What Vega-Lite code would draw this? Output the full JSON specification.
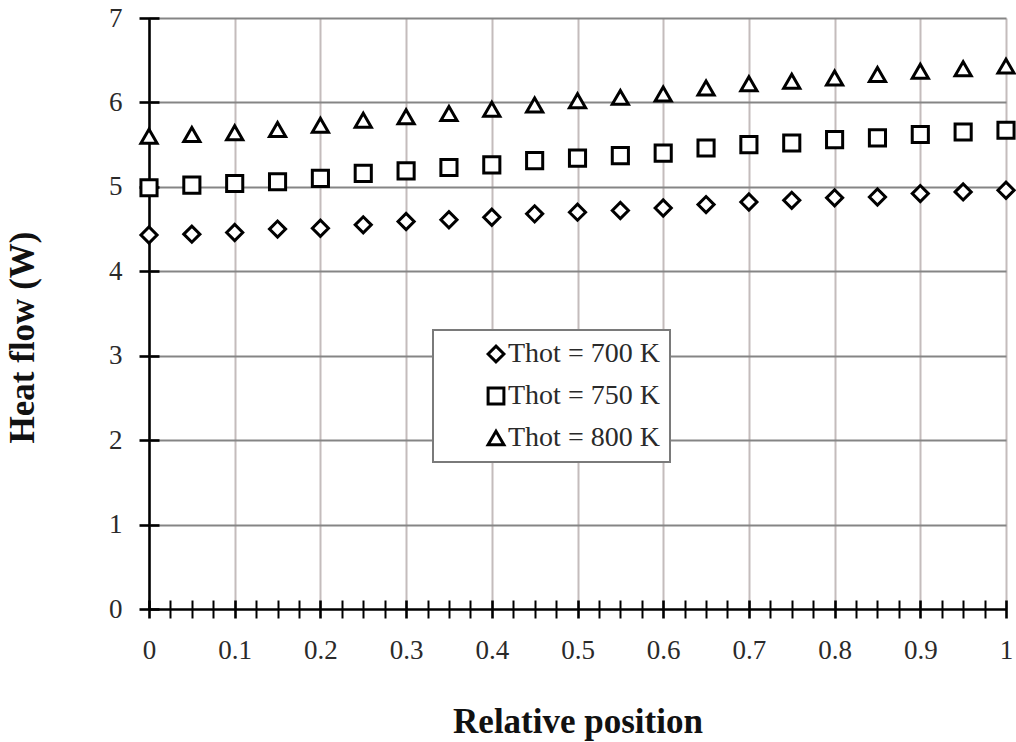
{
  "$schema": "https://vega.github.io/schema/vega-lite/v6.json",
  "autosize": "none",
  "width": 857,
  "height": 591,
  "padding": {"left": 149, "top": 18, "right": 10, "bottom": 133},
  "background": "white",
  "config": {
    "view": {"stroke": null},
    "font": "Liberation Serif",
    "legend": {"strokeWidth": 2, "symbolStrokeWidth": 3}
  },
  "data": {
    "values": [
      {"pos": 0.00, "heat": 4.43, "case": "Thot = 700 K"},
      {"pos": 0.05, "heat": 4.44, "case": "Thot = 700 K"},
      {"pos": 0.10, "heat": 4.46, "case": "Thot = 700 K"},
      {"pos": 0.15, "heat": 4.50, "case": "Thot = 700 K"},
      {"pos": 0.20, "heat": 4.51, "case": "Thot = 700 K"},
      {"pos": 0.25, "heat": 4.55, "case": "Thot = 700 K"},
      {"pos": 0.30, "heat": 4.59, "case": "Thot = 700 K"},
      {"pos": 0.35, "heat": 4.61, "case": "Thot = 700 K"},
      {"pos": 0.40, "heat": 4.64, "case": "Thot = 700 K"},
      {"pos": 0.45, "heat": 4.68, "case": "Thot = 700 K"},
      {"pos": 0.50, "heat": 4.70, "case": "Thot = 700 K"},
      {"pos": 0.55, "heat": 4.72, "case": "Thot = 700 K"},
      {"pos": 0.60, "heat": 4.75, "case": "Thot = 700 K"},
      {"pos": 0.65, "heat": 4.79, "case": "Thot = 700 K"},
      {"pos": 0.70, "heat": 4.82, "case": "Thot = 700 K"},
      {"pos": 0.75, "heat": 4.84, "case": "Thot = 700 K"},
      {"pos": 0.80, "heat": 4.87, "case": "Thot = 700 K"},
      {"pos": 0.85, "heat": 4.88, "case": "Thot = 700 K"},
      {"pos": 0.90, "heat": 4.92, "case": "Thot = 700 K"},
      {"pos": 0.95, "heat": 4.94, "case": "Thot = 700 K"},
      {"pos": 1.00, "heat": 4.96, "case": "Thot = 700 K"},
      {"pos": 0.00, "heat": 4.99, "case": "Thot = 750 K"},
      {"pos": 0.05, "heat": 5.02, "case": "Thot = 750 K"},
      {"pos": 0.10, "heat": 5.04, "case": "Thot = 750 K"},
      {"pos": 0.15, "heat": 5.06, "case": "Thot = 750 K"},
      {"pos": 0.20, "heat": 5.10, "case": "Thot = 750 K"},
      {"pos": 0.25, "heat": 5.16, "case": "Thot = 750 K"},
      {"pos": 0.30, "heat": 5.19, "case": "Thot = 750 K"},
      {"pos": 0.35, "heat": 5.23, "case": "Thot = 750 K"},
      {"pos": 0.40, "heat": 5.26, "case": "Thot = 750 K"},
      {"pos": 0.45, "heat": 5.31, "case": "Thot = 750 K"},
      {"pos": 0.50, "heat": 5.34, "case": "Thot = 750 K"},
      {"pos": 0.55, "heat": 5.37, "case": "Thot = 750 K"},
      {"pos": 0.60, "heat": 5.40, "case": "Thot = 750 K"},
      {"pos": 0.65, "heat": 5.46, "case": "Thot = 750 K"},
      {"pos": 0.70, "heat": 5.50, "case": "Thot = 750 K"},
      {"pos": 0.75, "heat": 5.52, "case": "Thot = 750 K"},
      {"pos": 0.80, "heat": 5.56, "case": "Thot = 750 K"},
      {"pos": 0.85, "heat": 5.58, "case": "Thot = 750 K"},
      {"pos": 0.90, "heat": 5.62, "case": "Thot = 750 K"},
      {"pos": 0.95, "heat": 5.65, "case": "Thot = 750 K"},
      {"pos": 1.00, "heat": 5.67, "case": "Thot = 750 K"},
      {"pos": 0.00, "heat": 5.60, "case": "Thot = 800 K"},
      {"pos": 0.05, "heat": 5.62, "case": "Thot = 800 K"},
      {"pos": 0.10, "heat": 5.64, "case": "Thot = 800 K"},
      {"pos": 0.15, "heat": 5.68, "case": "Thot = 800 K"},
      {"pos": 0.20, "heat": 5.73, "case": "Thot = 800 K"},
      {"pos": 0.25, "heat": 5.79, "case": "Thot = 800 K"},
      {"pos": 0.30, "heat": 5.83, "case": "Thot = 800 K"},
      {"pos": 0.35, "heat": 5.87, "case": "Thot = 800 K"},
      {"pos": 0.40, "heat": 5.92, "case": "Thot = 800 K"},
      {"pos": 0.45, "heat": 5.97, "case": "Thot = 800 K"},
      {"pos": 0.50, "heat": 6.02, "case": "Thot = 800 K"},
      {"pos": 0.55, "heat": 6.06, "case": "Thot = 800 K"},
      {"pos": 0.60, "heat": 6.10, "case": "Thot = 800 K"},
      {"pos": 0.65, "heat": 6.17, "case": "Thot = 800 K"},
      {"pos": 0.70, "heat": 6.22, "case": "Thot = 800 K"},
      {"pos": 0.75, "heat": 6.25, "case": "Thot = 800 K"},
      {"pos": 0.80, "heat": 6.29, "case": "Thot = 800 K"},
      {"pos": 0.85, "heat": 6.33, "case": "Thot = 800 K"},
      {"pos": 0.90, "heat": 6.37, "case": "Thot = 800 K"},
      {"pos": 0.95, "heat": 6.40, "case": "Thot = 800 K"},
      {"pos": 1.00, "heat": 6.43, "case": "Thot = 800 K"}
    ]
  },
  "mark": {
    "type": "point",
    "filled": true,
    "fill": "white",
    "stroke": "black",
    "strokeWidth": 3,
    "opacity": 1,
    "size": 260
  },
  "encoding": {
    "x": {
      "field": "pos",
      "type": "quantitative",
      "scale": {"domain": [0, 1], "nice": false, "zero": false},
      "axis": {
        "title": "Relative position",
        "values": [0, 0.025, 0.05, 0.075, 0.1, 0.125, 0.15, 0.175, 0.2, 0.225, 0.25, 0.275, 0.3, 0.325, 0.35, 0.375, 0.4, 0.425, 0.45, 0.475, 0.5, 0.525, 0.55, 0.575, 0.6, 0.625, 0.65, 0.675, 0.7, 0.725, 0.75, 0.775, 0.8, 0.825, 0.85, 0.875, 0.9, 0.925, 0.95, 0.975, 1],
        "domain": false,
        "offset": -9,
        "tickSize": 18,
        "tickColor": "black",
        "tickWidth": {"condition": {"test": "abs(datum.value*10-round(datum.value*10))<1e-6", "value": 2.6}, "value": 2},
        "grid": true,
        "gridColor": {"condition": {"test": "datum.value == 0", "value": "black"}, "value": "#c4bcbc"},
        "gridWidth": {"condition": {"test": "datum.value == 0", "value": 2.6}, "value": 2},
        "gridOpacity": {"condition": {"test": "abs(datum.value*10-round(datum.value*10))<1e-6", "value": 1}, "value": 0},
        "labelExpr": "abs(datum.value*10-round(datum.value*10))<1e-6 ? format(datum.value, '.1~f') : ''",
        "labelOverlap": false,
        "labelBound": false,
        "labelFlush": false,
        "labelFont": "Liberation Serif",
        "labelFontSize": 27,
        "labelColor": "#2a2a2a",
        "labelPadding": 19,
        "titleFont": "Liberation Serif",
        "titleFontSize": 35,
        "titleFontWeight": "bold",
        "titleColor": "#111111",
        "titlePadding": 41
      }
    },
    "y": {
      "field": "heat",
      "type": "quantitative",
      "scale": {"domain": [0, 7], "nice": false},
      "axis": {
        "title": "Heat flow (W)",
        "values": [0, 0.5, 1, 1.5, 2, 2.5, 3, 3.5, 4, 4.5, 5, 5.5, 6, 6.5, 7],
        "domain": false,
        "offset": -10,
        "tickSize": 20,
        "tickColor": "black",
        "tickWidth": {"condition": {"test": "datum.value % 1 == 0", "value": 2.6}, "value": 2.2},
        "grid": true,
        "gridColor": {"condition": {"test": "datum.value == 0", "value": "black"}, "value": "#858585"},
        "gridWidth": {"condition": {"test": "datum.value == 0", "value": 2.6}, "value": 2.2},
        "gridOpacity": {"condition": {"test": "datum.value % 1 == 0", "value": 1}, "value": 0},
        "labelExpr": "datum.value % 1 == 0 ? datum.label : ''",
        "format": "d",
        "labelOverlap": false,
        "labelBound": false,
        "labelFlush": false,
        "labelFont": "Liberation Serif",
        "labelFontSize": 27,
        "labelColor": "#2a2a2a",
        "labelPadding": 17,
        "titleFont": "Liberation Serif",
        "titleFontSize": 35,
        "titleFontWeight": "bold",
        "titleColor": "#111111",
        "titlePadding": 68,
        "titleY": 319
      }
    },
    "shape": {
      "field": "case",
      "type": "nominal",
      "scale": {
        "domain": ["Thot = 700 K", "Thot = 750 K", "Thot = 800 K"],
        "range": ["diamond", "square", "triangle-up"]
      },
      "legend": {
        "title": null,
        "orient": "none",
        "legendX": 284,
        "legendY": 312,
        "padding": 10,
        "strokeColor": "#7a7a7a",
        "fillColor": "white",
        "cornerRadius": 0,
        "labelFont": "Liberation Serif",
        "labelFontSize": 28,
        "labelColor": "#2a2a2a",
        "symbolSize": 250,
        "symbolStrokeWidth": 3,
        "symbolOffset": 39,
        "labelOffset": -2,
        "rowPadding": 14
      }
    }
  }
}
